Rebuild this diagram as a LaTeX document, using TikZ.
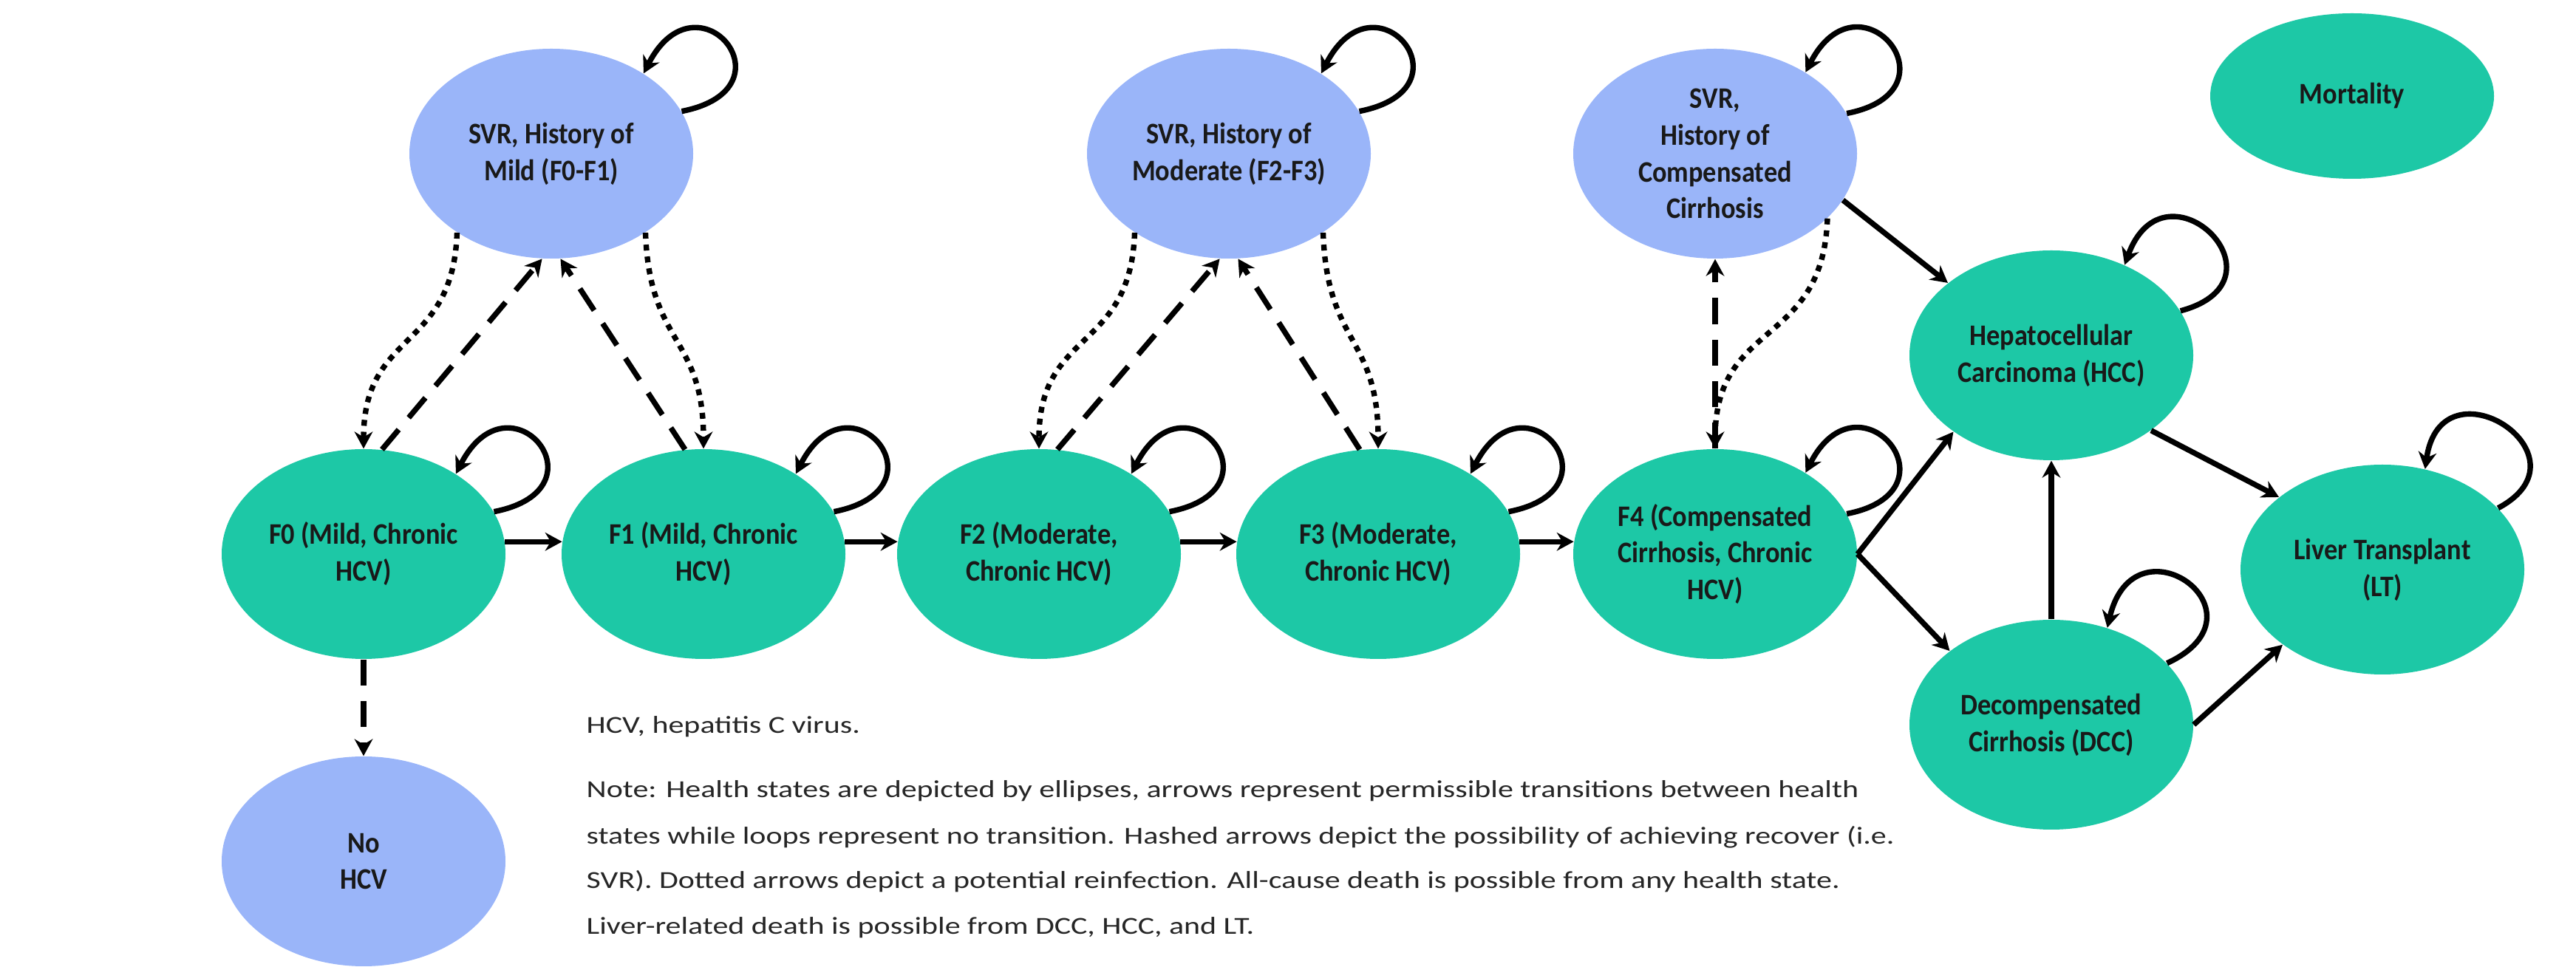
\documentclass[tikz,border=0pt]{standalone}
\usepackage{fontspec}
\setmainfont{Carlito}
\newfontfamily\labelfont{Carlito}[FakeStretch=0.9]
\newfontfamily\notefont{Carlito}[FakeStretch=1.27]
\usetikzlibrary{arrows.meta}
\usetikzlibrary{shapes.geometric}

\definecolor{statecol}{HTML}{1DC8A6}
\definecolor{svrcol}{HTML}{9AB5F9}

\begin{document}
\begin{tikzpicture}%
	[state/.style={ellipse, fill=statecol, minimum width=3.84cm, minimum height=2.84cm, inner sep=0pt, align=center, text=black!90, font=\labelfont\bfseries\fontsize{11.5}{14.2}\selectfont},
	svr/.style={state, fill=svrcol},
	trans/.style={-{Stealth[length=6.5pt,width=7pt]}, line width=2.1pt, black},
	selfloop/.style={trans},
	recov/.style={trans, dash pattern=on 10pt off 6pt},
	reinf/.style={trans, dash pattern=on 2.3pt off 2.3pt},
	notetext/.style={anchor=base west, inner sep=0pt, text=black!85, font=\notefont\fontsize{9.4}{12}\selectfont}]
%
\useasboundingbox (0,0) rectangle (34.86,-13.09);
%%
%% Health states
%%
\node[svr] (svrmild) at (7.46,-2.08) {SVR, History of\\Mild (F0-F1)};
\node[svr] (svrmod) at (16.63,-2.08) {SVR, History of\\Moderate (F2-F3)};
\node[svr] (svrcomp) at (23.21,-2.08) {SVR,\\History of\\Compensated\\Cirrhosis};
\node[state, minimum height=2.24cm] (mort) at (31.83,-1.30) {Mortality};
\node[state] (f0) at (4.92,-7.50) {F0 (Mild, Chronic\\HCV)};
\node[state] (f1) at (9.52,-7.50) {F1 (Mild, Chronic\\HCV)};
\node[state] (f2) at (14.06,-7.50) {F2 (Moderate,\\Chronic HCV)};
\node[state] (f3) at (18.65,-7.50) {F3 (Moderate,\\Chronic HCV)};
\node[state] (f4) at (23.21,-7.50) {F4 (Compensated\\Cirrhosis, Chronic\\HCV)};
\node[svr] (nohcv) at (4.92,-11.66) {No\\HCV};
\node[state] (hcc) at (27.76,-4.81) {Hepatocellular\\Carcinoma (HCC)};
\node[state] (dcc) at (27.76,-9.81) {Decompensated\\Cirrhosis (DCC)};
\node[state] (lt) at (32.24,-7.71) {Liver Transplant\\(LT)};
%%
%% Progression
%%
\draw[trans] (f0.5) -- (f1.175);
\draw[trans] (f1.5) -- (f2.175);
\draw[trans] (f2.5) -- (f3.175);
\draw[trans] (f3.5) -- (f4.175);
\draw[trans] (f4.east) -- (hcc.218);
\draw[trans] (f4.east) -- (dcc.144);
\draw[trans] (dcc.north) -- (hcc.south);
\draw[trans] (hcc.-37) -- (lt.145);
\draw[trans] (dcc.east) -- (lt.217);
\draw[trans] (svrcomp.-20) -- (hcc.145);
%%
%% Recovery (SVR)
%%
\draw[recov] (f0.80) -- (svrmild.265);
\draw[recov] (f1.100) -- (svrmild.275);
\draw[recov] (f2.80) -- (svrmod.265);
\draw[recov] (f3.100) -- (svrmod.275);
\draw[recov] (f4.north) -- (svrcomp.south);
\draw[recov] (f0.south) -- (nohcv.north);
%%
%% Reinfection
%%
\draw[reinf] (svrmild.220) to[out=-92, in=90, looseness=1.3] (f0.north);
\draw[reinf] (svrmild.320) to[out=-88, in=90, looseness=1.3] (f1.north);
\draw[reinf] (svrmod.220) to[out=-92, in=90, looseness=1.3] (f2.north);
\draw[reinf] (svrmod.320) to[out=-88, in=90, looseness=1.3] (f3.north);
\draw[reinf] (svrcomp.330) to[out=-92, in=90, looseness=1.3] (f4.north);
%%
%% No transition
%%
\draw[selfloop] (svrmild.18) .. controls +(11:1.6) and +(63:1.6) .. (svrmild.41);
\draw[selfloop] (svrmod.18) .. controls +(11:1.6) and +(63:1.6) .. (svrmod.41);
\draw[selfloop] (svrcomp.17) .. controls +(11:1.6) and +(63:1.6) .. (svrcomp.42);
\draw[selfloop] (f0.18) .. controls +(11:1.6) and +(63:1.6) .. (f0.41);
\draw[selfloop] (f1.18) .. controls +(11:1.6) and +(63:1.6) .. (f1.41);
\draw[selfloop] (f2.18) .. controls +(11:1.6) and +(63:1.6) .. (f2.41);
\draw[selfloop] (f3.18) .. controls +(11:1.6) and +(63:1.6) .. (f3.41);
\draw[selfloop] (f4.17) .. controls +(11:1.6) and +(63:1.6) .. (f4.42);
\draw[selfloop] (hcc.19) .. controls +(15:1.6) and +(70:1.6) .. (hcc.51);
\draw[selfloop] (dcc.28) .. controls +(25:1.6) and +(77:1.6) .. (dcc.60);
\draw[selfloop] (lt.28) .. controls +(28:1.5) and +(82:1.55) .. (lt.67);
%%
%% Notes
%%
\node[notetext] (abbrev) at (7.93,-9.93) {HCV, hepatitis C virus.};
\node[notetext] (note1) at (7.93,-10.80) {Note: Health states are depicted by ellipses, arrows represent permissible transitions between health};
\node[notetext] (note2) at (7.93,-11.43) {states while loops represent no transition. Hashed arrows depict the possibility of achieving recover (i.e.};
\node[notetext] (note3) at (7.93,-12.03) {SVR). Dotted arrows depict a potential reinfection. All-cause death is possible from any health state.};
\node[notetext] (note4) at (7.93,-12.65) {Liver-related death is possible from DCC, HCC, and LT.};
%%
\end{tikzpicture}
\end{document}
